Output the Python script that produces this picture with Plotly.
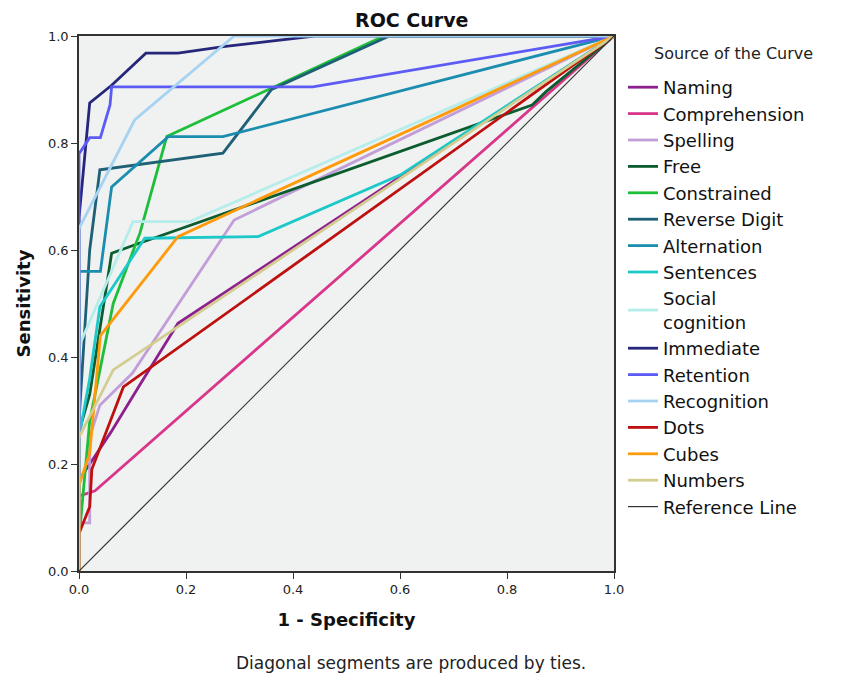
import plotly.graph_objects as go

# ---- data ----
series_names = ["Naming", "Comprehension", "Spelling", "Free", "Constrained",
                "Reverse Digit", "Alternation", "Sentences", "Social<br>cognition",
                "Immediate", "Retention", "Recognition", "Dots", "Cubes", "Numbers"]

naming_x = [0, 0, 0.02, 0.06, 0.115, 0.185, 1]
naming_y = [0, 0.17, 0.2, 0.26, 0.35, 0.463, 1]

comprehension_x = [0, 0, 0.03, 1]
comprehension_y = [0, 0.14, 0.15, 1]

spelling_x = [0, 0, 0.02, 0.02, 0.039, 0.1, 0.29, 1]
spelling_y = [0, 0.09, 0.09, 0.25, 0.31, 0.37, 0.656, 1]

free_x = [0, 0, 0.02, 0.061, 0.114, 0.767, 0.847, 0.873, 1]
free_y = [0, 0.26, 0.33, 0.594, 0.613, 0.843, 0.871, 0.896, 1]

constrained_x = [0, 0, 0.02, 0.064, 0.114, 0.164, 0.57, 1]
constrained_y = [0, 0.06, 0.28, 0.5, 0.632, 0.812, 1, 1]

reverse_x = [0, 0, 0.02, 0.039, 0.269, 0.36, 0.58, 1]
reverse_y = [0, 0.28, 0.6, 0.75, 0.781, 0.9, 1, 1]

alternation_x = [0, 0, 0.04, 0.061, 0.167, 0.269, 1]
alternation_y = [0, 0.56, 0.56, 0.718, 0.812, 0.812, 1]

sentences_x = [0, 0, 0.02, 0.039, 0.123, 0.335, 0.6, 1]
sentences_y = [0, 0.25, 0.36, 0.494, 0.622, 0.625, 0.74, 1]

social_x = [0, 0, 0.101, 0.207, 1]
social_y = [0, 0.42, 0.653, 0.653, 1]

immediate_x = [0, 0, 0.02, 0.061, 0.125, 0.185, 0.27, 0.44, 1]
immediate_y = [0, 0.66, 0.875, 0.908, 0.968, 0.968, 0.98, 1, 1]

retention_x = [0, 0, 0.02, 0.04, 0.058, 0.061, 0.437, 1]
retention_y = [0, 0.78, 0.81, 0.81, 0.871, 0.905, 0.905, 1]

recognition_x = [0, 0, 0.104, 0.29, 1]
recognition_y = [0, 0.64, 0.843, 1, 1]

dots_x = [0, 0, 0.02, 0.024, 0.083, 1]
dots_y = [0, 0.07, 0.12, 0.19, 0.344, 1]

cubes_x = [0, 0, 0.02, 0.04, 0.185, 1]
cubes_y = [0, 0.16, 0.22, 0.44, 0.625, 1]

numbers_x = [0, 0, 0.064, 1]
numbers_y = [0, 0.25, 0.376, 1]

reference_x = [0, 1]
reference_y = [0, 1]

tick_vals = [0, 0.2, 0.4, 0.6, 0.8, 1.0]
tick_text = ["0.0", "0.2", "0.4", "0.6", "0.8", "1.0"]

# ---- styles ----
colors = ["#8E1F8E", "#D9368B", "#C29ED8", "#0B5C2E", "#1DBF3A",
          "#1E6075", "#1B8DAF", "#1DC8C8", "#B5EDEA",
          "#26277A", "#5C5CF5", "#A7D3F3", "#BF1010", "#FF9A0A", "#D3CD8F"]

xs = [naming_x, comprehension_x, spelling_x, free_x, constrained_x, reverse_x,
      alternation_x, sentences_x, social_x, immediate_x, retention_x,
      recognition_x, dots_x, cubes_x, numbers_x]
ys = [naming_y, comprehension_y, spelling_y, free_y, constrained_y, reverse_y,
      alternation_y, sentences_y, social_y, immediate_y, retention_y,
      recognition_y, dots_y, cubes_y, numbers_y]

FONT = "DejaVu Sans"

fig = go.Figure()
for name, x, y, c in zip(series_names, xs, ys, colors):
    fig.add_trace(go.Scatter(x=x, y=y, mode="lines", name=name,
                             line=dict(color=c, width=2.8)))
fig.add_trace(go.Scatter(x=reference_x, y=reference_y, mode="lines",
                         name="Reference Line",
                         line=dict(color="#333333", width=1.2)))

L, R, T, B = 79, 843 - 614, 36, 677 - 571
pw = 843 - L - R
ph = 677 - T - B


def px_y(p):
    return (677 - B - p) / ph


def px_x(p):
    return (p - L) / pw


fig.update_layout(
    width=843, height=677,
    margin=dict(l=L, r=R, t=T, b=B),
    paper_bgcolor="white",
    plot_bgcolor="#F0F1F1",
    font=dict(family=FONT, color="#111111"),
    showlegend=True,
    legend=dict(x=px_x(623), xanchor="left", y=px_y(69),
                yanchor="top", font=dict(size=18, family=FONT, color="#111111"),
                tracegroupgap=0, itemwidth=30, bgcolor="rgba(0,0,0,0)"),
    xaxis=dict(range=[0, 1], tickvals=tick_vals, ticktext=tick_text,
               ticks="outside", ticklen=6, tickcolor="#333333",
               showgrid=False, zeroline=False, showline=True, mirror=True,
               linecolor="#333333", linewidth=1.5,
               tickfont=dict(size=13, color="#222222"),
               title=dict(text="<b>1 - Specificity</b>", font=dict(size=18), standoff=17)),
    yaxis=dict(range=[0, 1], tickvals=tick_vals, ticktext=tick_text,
               ticks="outside", ticklen=6, tickcolor="#333333",
               showgrid=False, zeroline=False, showline=True, mirror=True,
               linecolor="#333333", linewidth=1.5,
               tickfont=dict(size=13, color="#222222"),
               title=dict(text="<b>Sensitivity</b>", font=dict(size=18), standoff=13)),
    annotations=[
        dict(text="<b>ROC Curve</b>", xref="paper", yref="paper",
             x=px_x(411), y=px_y(20), xanchor="center", yanchor="middle",
             showarrow=False, font=dict(size=19, color="#111111")),
        dict(text="Source of the Curve", xref="paper", yref="paper",
             x=px_x(733), y=px_y(53), xanchor="center",
             yanchor="middle", showarrow=False, font=dict(size=16, color="#222222")),
        dict(text="Diagonal segments are produced by ties.", xref="paper", yref="paper",
             x=px_x(411), y=px_y(663), xanchor="center", yanchor="middle",
             showarrow=False, font=dict(size=17, color="#222222")),
    ],
)

fig.write_html("out.html")
